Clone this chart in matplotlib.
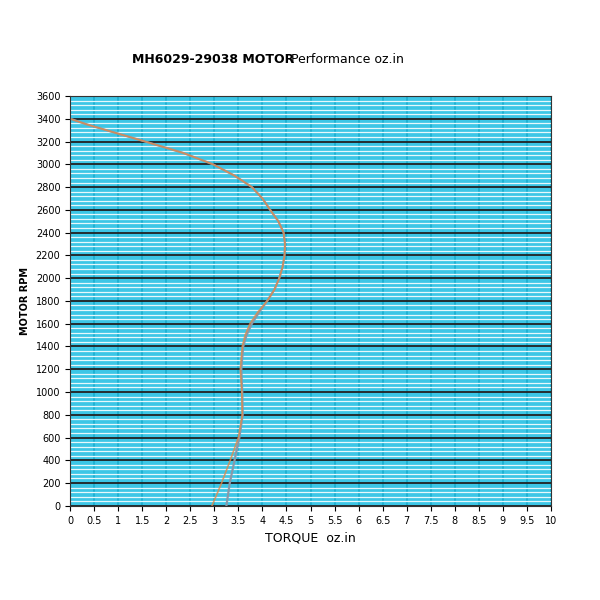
import numpy as np
import matplotlib.pyplot as plt

rpm = [0, 200, 400, 600, 800, 1000, 1200, 1400, 1500, 1600, 1700, 1800, 1900, 2000, 2100, 2200, 2300, 2400,
       2500, 2600, 2700, 2800, 2900, 3000, 3100, 3200, 3300, 3350, 3400]
torque_a = [2.95, 3.15, 3.33, 3.5, 3.58, 3.57, 3.54, 3.58, 3.64, 3.74, 3.9, 4.1, 4.25, 4.35, 4.42, 4.46, 4.47, 4.44,
            4.33, 4.16, 4.0, 3.78, 3.42, 2.97, 2.35, 1.56, 0.75, 0.35, 0.0]
torque_b = [3.25, 3.32, 3.42, 3.52, 3.59, 3.58, 3.56, 3.6, 3.67, 3.78, 3.93, 4.1, 4.25, 4.35, 4.42, 4.46, 4.47, 4.44,
            4.33, 4.16, 4.0, 3.78, 3.42, 2.97, 2.35, 1.56, 0.75, 0.35, 0.0]

fig = plt.figure(figsize=(6, 6), dpi=100)
ax = fig.add_axes([0.117, 0.157, 0.801, 0.683])
ax.set_facecolor('#3cc6e6')
ax.set_xlim(0, 10)
ax.set_ylim(0, 3600)
ax.set_xticks(np.arange(0, 10.01, 0.5))
ax.set_xticklabels(['%g' % v for v in np.arange(0, 10.01, 0.5)], fontsize=7)
ax.set_yticks(np.arange(0, 3601, 200))
ax.tick_params(axis='y', labelsize=7)
ax.set_yticks(np.arange(0, 3601, 40), minor=True)
ax.tick_params(which='minor', length=0)
ax.grid(which='minor', axis='y', color='#e6f8fc', lw=0.9)
ax.grid(which='major', axis='x', color='#1aaed0', lw=1.2)
ax.grid(which='major', axis='y', color='#222222', lw=1.3)
ax.set_axisbelow(True)

ax.plot(torque_b, rpm, color='#8899aa', lw=1.6)
ax.plot(torque_a, rpm, color='#e08a4a', lw=1.2, alpha=0.8)

ax.set_xlabel('TORQUE  oz.in', fontsize=9)
ax.set_ylabel('MOTOR RPM', fontsize=7, fontweight='bold')
fig.text(0.22, 0.895, 'MH6029-29038 MOTOR', fontsize=9, fontweight='bold')
fig.text(0.485, 0.895, 'Performance oz.in', fontsize=9)
for s in ax.spines.values():
    s.set_color('#333333')
fig.savefig('out.png')
